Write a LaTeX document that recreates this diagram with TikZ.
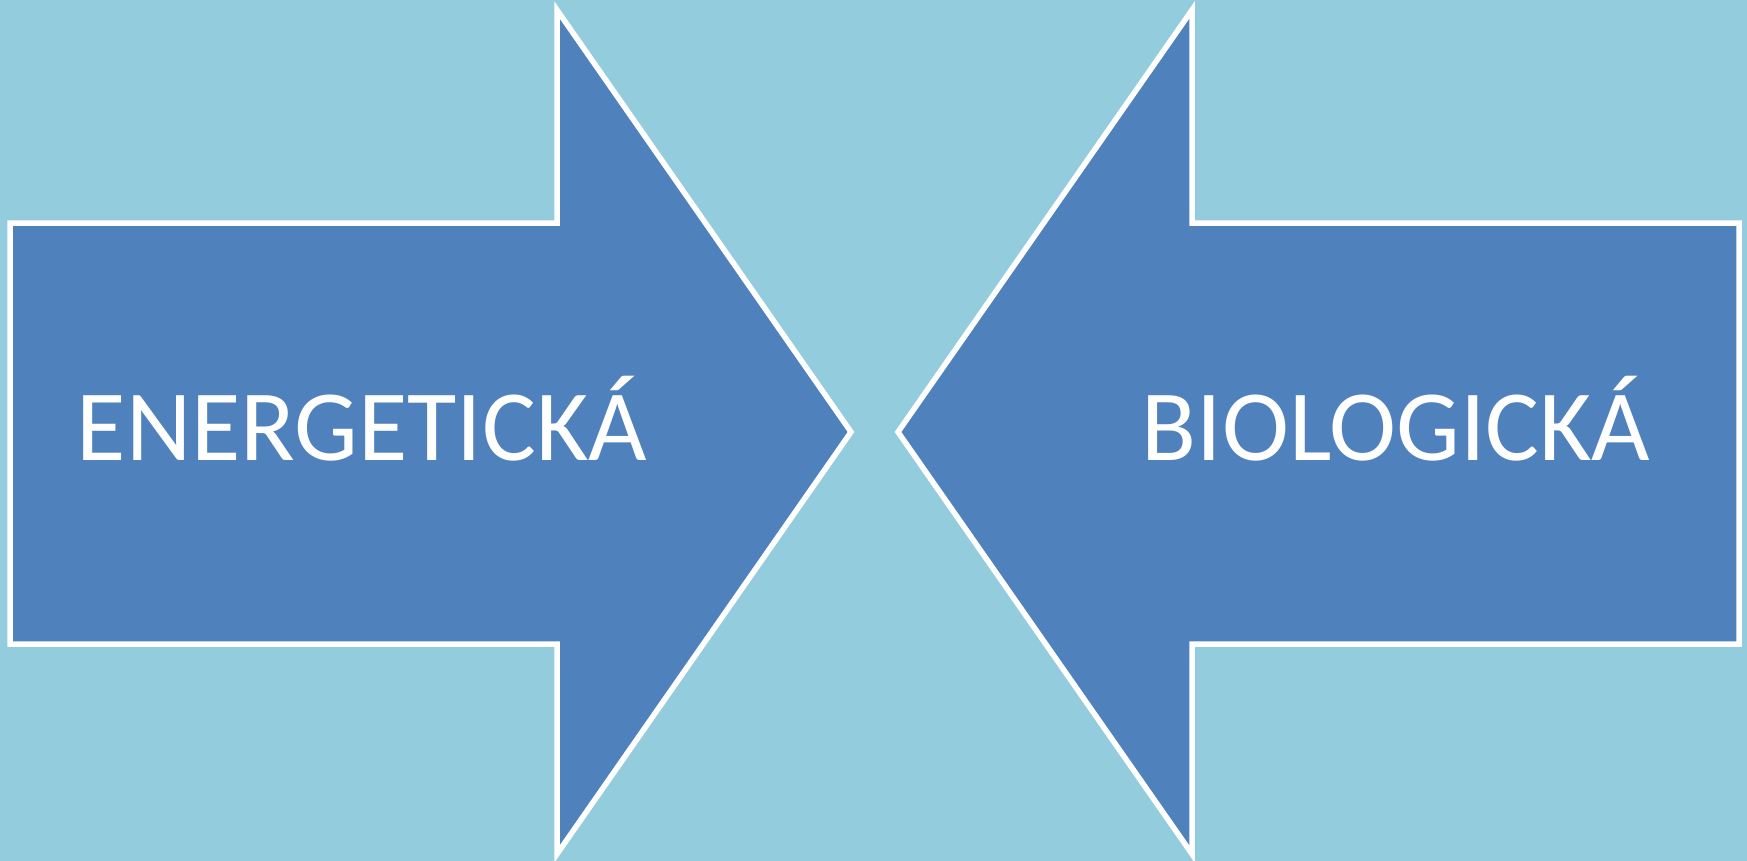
\documentclass[tikz,border=0pt]{standalone}
\usepackage{fontspec}
\setmainfont{Carlito}
\definecolor{bgblue}{HTML}{93CDDD}
\definecolor{arrowblue}{HTML}{4F81BD}
\tikzset{
  arrowshape/.style={fill=arrowblue, draw=white, line width=5.5pt, line join=miter},
  label/.style={text=white, font=\fontsize{101}{112}\selectfont, anchor=base, inner sep=0pt}
}
\begin{document}
\begin{tikzpicture}[x=1pt,y=-1pt]
\fill[bgblue] (0,0) rectangle (1747,861);
\useasboundingbox (0,0) rectangle (1747,861);
\draw[arrowshape] (10,223) -- (557,223) -- (557,10) -- (851,432) -- (557,854) -- (557,644) -- (10,644) -- cycle;
\draw[arrowshape] (1739,223) -- (1192,223) -- (1192,10) -- (898,432) -- (1192,854) -- (1192,644) -- (1739,644) -- cycle;
\node[label] (energ) at (362,460) {ENERGETICKÁ};
\node[label] (bio) at (1396,460) {BIOLOGICKÁ};
\end{tikzpicture}
\end{document}
